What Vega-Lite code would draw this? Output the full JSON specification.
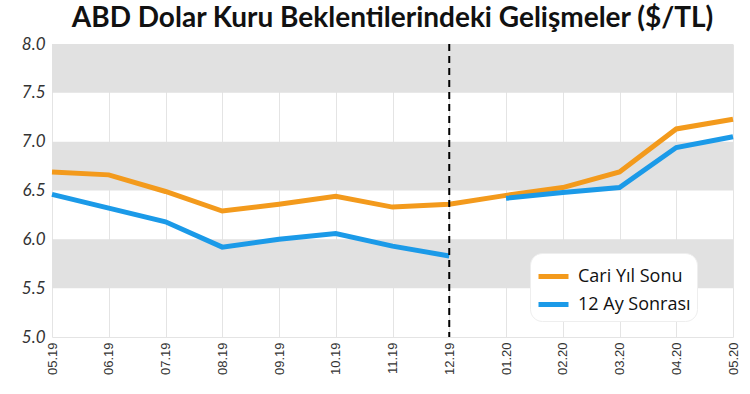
{
  "$schema": "https://vega.github.io/schema/vega-lite/v6.json",
  "autosize": {"type": "none"},
  "width": 681,
  "height": 293,
  "padding": {"left": 52, "top": 44, "right": 17, "bottom": 57},
  "background": "white",
  "title": {
    "text": "ABD Dolar Kuru Beklentilerindeki Gelişmeler ($/TL)",
    "font": "Lato",
    "fontSize": 28,
    "fontWeight": "bold",
    "color": "#111111",
    "anchor": "middle",
    "offset": 2
  },
  "config": {
    "view": {"stroke": null}
  },
  "datasets": {
    "bands": [
      {"lo": 7.5, "hi": 8.0},
      {"lo": 6.5, "hi": 7.0},
      {"lo": 5.5, "hi": 6.0}
    ],
    "series": [
      {"date": "05.19", "series": "Cari Yıl Sonu", "part": "a", "value": 6.69},
      {"date": "06.19", "series": "Cari Yıl Sonu", "part": "a", "value": 6.66},
      {"date": "07.19", "series": "Cari Yıl Sonu", "part": "a", "value": 6.49},
      {"date": "08.19", "series": "Cari Yıl Sonu", "part": "a", "value": 6.29},
      {"date": "09.19", "series": "Cari Yıl Sonu", "part": "a", "value": 6.36},
      {"date": "10.19", "series": "Cari Yıl Sonu", "part": "a", "value": 6.44},
      {"date": "11.19", "series": "Cari Yıl Sonu", "part": "a", "value": 6.33},
      {"date": "12.19", "series": "Cari Yıl Sonu", "part": "a", "value": 6.36},
      {"date": "01.20", "series": "Cari Yıl Sonu", "part": "a", "value": 6.45},
      {"date": "02.20", "series": "Cari Yıl Sonu", "part": "a", "value": 6.53},
      {"date": "03.20", "series": "Cari Yıl Sonu", "part": "a", "value": 6.69},
      {"date": "04.20", "series": "Cari Yıl Sonu", "part": "a", "value": 7.13},
      {"date": "05.20", "series": "Cari Yıl Sonu", "part": "a", "value": 7.23},
      {"date": "05.19", "series": "12 Ay Sonrası", "part": "a", "value": 6.46},
      {"date": "06.19", "series": "12 Ay Sonrası", "part": "a", "value": 6.32},
      {"date": "07.19", "series": "12 Ay Sonrası", "part": "a", "value": 6.18},
      {"date": "08.19", "series": "12 Ay Sonrası", "part": "a", "value": 5.92},
      {"date": "09.19", "series": "12 Ay Sonrası", "part": "a", "value": 6.00},
      {"date": "10.19", "series": "12 Ay Sonrası", "part": "a", "value": 6.06},
      {"date": "11.19", "series": "12 Ay Sonrası", "part": "a", "value": 5.93},
      {"date": "12.19", "series": "12 Ay Sonrası", "part": "a", "value": 5.83},
      {"date": "01.20", "series": "12 Ay Sonrası", "part": "b", "value": 6.42},
      {"date": "02.20", "series": "12 Ay Sonrası", "part": "b", "value": 6.48},
      {"date": "03.20", "series": "12 Ay Sonrası", "part": "b", "value": 6.53},
      {"date": "04.20", "series": "12 Ay Sonrası", "part": "b", "value": 6.94},
      {"date": "05.20", "series": "12 Ay Sonrası", "part": "b", "value": 7.05}
    ],
    "marker": [{"date": "12.19"}]
  },
  "layer": [
    {
      "data": {"name": "bands"},
      "mark": {"type": "rect", "color": "#E1E1E1"},
      "encoding": {
        "y": {"field": "lo", "type": "quantitative", "scale": {"domain": [5, 8]}},
        "y2": {"field": "hi"}
      }
    },
    {
      "data": {"name": "series"},
      "mark": {"type": "line", "strokeWidth": 5},
      "encoding": {
        "x": {
          "field": "date",
          "type": "ordinal",
          "sort": ["05.19", "06.19", "07.19", "08.19", "09.19", "10.19", "11.19", "12.19", "01.20", "02.20", "03.20", "04.20", "05.20"],
          "scale": {"type": "point", "padding": 0, "domain": ["05.19", "06.19", "07.19", "08.19", "09.19", "10.19", "11.19", "12.19", "01.20", "02.20", "03.20", "04.20", "05.20"]},
          "axis": {
            "title": null,
            "labelAngle": 270,
            "labelFont": "Liberation Sans",
            "labelFontSize": 13,
            "labelColor": "#333333",
            "labelPadding": 5,
            "ticks": false,
            "grid": true,
            "gridColor": "#E4E4E4",
            "gridWidth": 1,
            "domainColor": "#E4E4E4"
          }
        },
        "y": {
          "field": "value",
          "type": "quantitative",
          "scale": {"domain": [5, 8], "nice": false, "zero": false},
          "axis": {
            "title": null,
            "values": [5, 5.5, 6, 6.5, 7, 7.5, 8],
            "format": ".1f",
            "labelFont": "Lato",
            "labelFontStyle": "italic",
            "labelFontSize": 17,
            "labelColor": "#333333",
            "labelPadding": 7,
            "ticks": false,
            "domain": false,
            "grid": false
          }
        },
        "color": {
          "field": "series",
          "type": "nominal",
          "scale": {"domain": ["Cari Yıl Sonu", "12 Ay Sonrası"], "range": ["#F39A1C", "#1B9AE8"]},
          "legend": {
            "title": null,
            "orient": "none",
            "legendX": 478,
            "legendY": 209,
            "symbolType": "stroke",
            "symbolStrokeWidth": 5,
            "symbolSize": 900,
            "labelFont": "Open Sans",
            "labelFontSize": 18,
            "labelColor": "#111111",
            "labelOffset": 7,
            "rowPadding": 0,
            "fillColor": "white",
            "cornerRadius": 12,
            "padding": 6,
            "strokeColor": "#EEEEEE"
          }
        },
        "detail": {"field": "part"}
      }
    },
    {
      "data": {"name": "marker"},
      "mark": {"type": "rule", "color": "black", "strokeWidth": 2, "strokeDash": [7, 5]},
      "encoding": {
        "x": {"field": "date", "type": "ordinal"}
      }
    }
  ]
}
